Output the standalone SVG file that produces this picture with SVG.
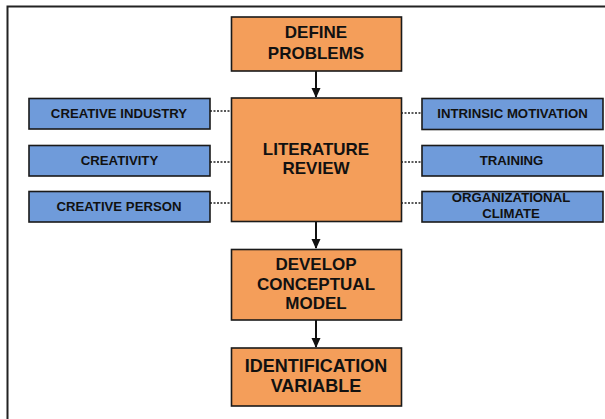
<svg xmlns="http://www.w3.org/2000/svg" width="605" height="419" viewBox="0 0 605 419">
<style>
.o{fill:#F49E5A;stroke:#1a1a1a;stroke-width:1.6}
.b{fill:#6F9BDA;stroke:#1a1a1a;stroke-width:1.6}
.t{font-family:"Liberation Sans",Arial,sans-serif;font-weight:bold;fill:#111;text-anchor:middle}
.big{font-size:17px}
.sm{font-size:13.2px}
.arr{stroke:#111;stroke-width:2;fill:none}
.dot{stroke:#222;stroke-width:1.3;stroke-dasharray:2 1.5;fill:none}
</style>
<defs>
<marker id="ah" markerWidth="10" markerHeight="10" refX="9" refY="5" orient="auto" markerUnits="userSpaceOnUse">
<path d="M0,0.5 L10,5 L0,9.5 Z" fill="#111"/>
</marker>
</defs>
<rect width="605" height="419" fill="#fff"/>
<path d="M7.5,420 V6.5 H606" fill="none" stroke="#222" stroke-width="2"/>
<g id="connectors">
<line class="arr" x1="316" y1="71" x2="316" y2="97" marker-end="url(#ah)"/>
<line class="arr" x1="316" y1="222" x2="316" y2="248" marker-end="url(#ah)"/>
<line class="arr" x1="316" y1="320" x2="316" y2="347" marker-end="url(#ah)"/>
<line class="dot" x1="210" y1="111" x2="231" y2="111"/>
<line class="dot" x1="210" y1="162" x2="231" y2="162"/>
<line class="dot" x1="210" y1="203" x2="231" y2="203"/>
<line class="dot" x1="401" y1="113" x2="422" y2="113"/>
<line class="dot" x1="401" y1="162" x2="422" y2="162"/>
<line class="dot" x1="401" y1="203" x2="422" y2="203"/>
</g>
<g id="define">
<rect class="o" x="231.5" y="17" width="170" height="54"/>
<text class="t big" x="316" y="37.5">DEFINE</text>
<text class="t big" x="316" y="59">PROBLEMS</text>
</g>
<g id="literature">
<rect class="o" x="231.5" y="98" width="170" height="123.5"/>
<text class="t big" x="316" y="155">LITERATURE</text>
<text class="t big" x="316" y="173.5">REVIEW</text>
</g>
<g id="develop">
<rect class="o" x="231.5" y="249.5" width="170" height="70.5"/>
<text class="t big" x="316" y="270">DEVELOP</text>
<text class="t big" x="316" y="289.5">CONCEPTUAL</text>
<text class="t big" x="316" y="309">MODEL</text>
</g>
<g id="identification">
<rect class="o" x="231.5" y="348" width="170" height="58"/>
<text class="t" style="font-size:18px" x="316" y="372">IDENTIFICATION</text>
<text class="t" style="font-size:18px" x="316" y="392">VARIABLE</text>
</g>
<g id="creative-industry">
<rect class="b" x="29" y="98.5" width="181" height="30.5"/>
<text class="t sm" x="119" y="117.5">CREATIVE INDUSTRY</text>
</g>
<g id="creativity">
<rect class="b" x="29" y="145.5" width="181" height="30.5"/>
<text class="t sm" x="119.5" y="165">CREATIVITY</text>
</g>
<g id="creative-person">
<rect class="b" x="29" y="191.5" width="181" height="30.5"/>
<text class="t sm" x="119" y="211">CREATIVE PERSON</text>
</g>
<g id="intrinsic-motivation">
<rect class="b" x="422" y="98.5" width="181" height="31"/>
<text class="t sm" x="512.5" y="118">INTRINSIC MOTIVATION</text>
</g>
<g id="training">
<rect class="b" x="422" y="145.5" width="181" height="30.5"/>
<text class="t sm" x="511.5" y="165">TRAINING</text>
</g>
<g id="organizational-climate">
<rect class="b" x="422" y="191.5" width="181" height="30.5"/>
<text class="t sm" x="511" y="202">ORGANIZATIONAL</text>
<text class="t sm" x="511" y="218">CLIMATE</text>
</g>
</svg>
